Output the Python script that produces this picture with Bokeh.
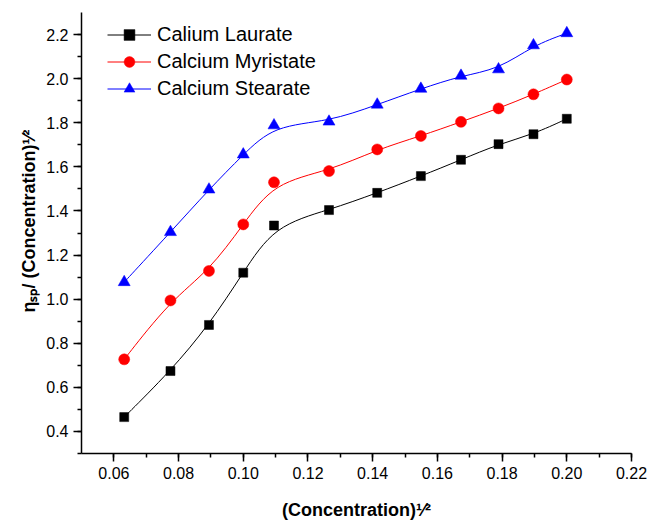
import numpy as np
from bokeh.plotting import figure
from bokeh.models import (Range1d, SingleIntervalTicker, PrintfTickFormatter,
                          Legend, LegendItem, ColumnDataSource, Title)
from bokeh.embed import file_html
from bokeh.resources import INLINE

# ---- data ----
conc_sqrt = [0.0632, 0.0775, 0.0894, 0.1000, 0.1095, 0.1265,
             0.1414, 0.1549, 0.1673, 0.1789, 0.1897, 0.2000]
laurate = [0.465, 0.674, 0.883, 1.120, 1.334, 1.404,
           1.482, 1.558, 1.632, 1.703, 1.748, 1.818]
myristate = [0.727, 0.994, 1.128, 1.339, 1.530, 1.581,
             1.679, 1.740, 1.804, 1.865, 1.929, 1.996]
stearate = [1.077, 1.304, 1.497, 1.656, 1.788, 1.805,
            1.882, 1.954, 2.013, 2.042, 2.151, 2.206]
series_names = ["Calium Laurate", "Calcium Myristate", "Calcium Stearate"]
x_title = "(Concentration)\u00b9\u2044\u00b2"
y_title = "\u03b7\u209b\u209a/ (Concentration)\u00b9\u2044\u00b2"

FONT = "Liberation Sans"


def bspline_segments(xs, ys):
    """Clamped uniform cubic B-spline (data points as control points),
    returned as cubic Bezier segments."""
    P = np.column_stack([xs, ys]).astype(float)
    Q = np.vstack([P[0], P[0], P, P[-1], P[-1]])
    out = {k: [] for k in ("x0", "y0", "x1", "y1", "cx0", "cy0", "cx1", "cy1")}
    for i in range(1, len(Q) - 2):
        a, b, c, d = Q[i - 1], Q[i], Q[i + 1], Q[i + 2]
        s = (a + 4 * b + c) / 6
        c0 = (2 * b + c) / 3
        c1 = (b + 2 * c) / 3
        e = (b + 4 * c + d) / 6
        out["x0"].append(s[0]); out["y0"].append(s[1])
        out["cx0"].append(c0[0]); out["cy0"].append(c0[1])
        out["cx1"].append(c1[0]); out["cy1"].append(c1[1])
        out["x1"].append(e[0]); out["y1"].append(e[1])
    return out


p = figure(width=647, height=525, output_backend="svg", toolbar_location=None,
           x_range=Range1d(0.05, 0.22), y_range=Range1d(0.3, 2.3),
           min_border_left=81, min_border_right=16,
           min_border_top=12, min_border_bottom=72)
p.background_fill_color = "white"
p.border_fill_color = "white"
p.outline_line_color = None
p.grid.visible = False

p.xaxis.ticker = SingleIntervalTicker(interval=0.02, num_minor_ticks=2)
p.yaxis.ticker = SingleIntervalTicker(interval=0.2, num_minor_ticks=2)
p.xaxis.formatter = PrintfTickFormatter(format="%.2f")
p.yaxis.formatter = PrintfTickFormatter(format="%.1f")

for ax in (p.xaxis, p.yaxis):
    ax.axis_line_width = 1.5
    ax.axis_line_color = "black"
    ax.major_tick_line_width = 1.5
    ax.minor_tick_line_width = 1.5
    ax.major_tick_line_color = "black"
    ax.minor_tick_line_color = "black"
    ax.major_tick_out = 8
    ax.major_tick_in = 0
    ax.minor_tick_out = 4
    ax.minor_tick_in = 0
    ax.major_label_text_font = FONT
    ax.major_label_text_font_size = "16px"
    ax.major_label_text_color = "black"
    ax.major_label_standoff = 5
    ax.axis_label_text_font = FONT
    ax.axis_label_text_font_size = "18px"
    ax.axis_label_text_font_style = "bold"
    ax.axis_label_text_color = "black"

p.xaxis.axis_label = x_title
p.xaxis.axis_label_standoff = 18

# y-axis title placed as a side title so that it can be shifted along the axis
ytitle = Title(text=y_title, align="left", offset=141, standoff=10,
               text_font=FONT, text_font_size="18px", text_font_style="bold",
               text_color="black")
p.add_layout(ytitle, "left")

colors = ["black", "red", "blue"]
markers = ["square", "circle", "triangle"]
sizes = [9, 11, 12]
items = []
for name, ys, col, mk, sz in zip(series_names, [laurate, myristate, stearate],
                                 colors, markers, sizes):
    segs = bspline_segments(conc_sqrt, ys)
    br = p.bezier(source=ColumnDataSource(segs), x0="x0", y0="y0", x1="x1", y1="y1",
                  cx0="cx0", cy0="cy0", cx1="cx1", cy1="cy1",
                  line_color=col, line_width=1)
    sr = p.scatter(conc_sqrt, ys, marker=mk, size=sz, fill_color=col,
                   line_color=col, line_width=0.5)
    items.append(LegendItem(label=name, renderers=[br, sr]))

legend = Legend(items=items, location=(26, 351), margin=0, padding=0, spacing=0,
                glyph_width=44, glyph_height=27, label_height=27, label_standoff=6,
                label_text_font=FONT, label_text_font_size="20px",
                label_text_color="black",
                border_line_color=None, background_fill_alpha=0)
p.add_layout(legend)

open("out.html", "w").write(file_html(p, INLINE))
